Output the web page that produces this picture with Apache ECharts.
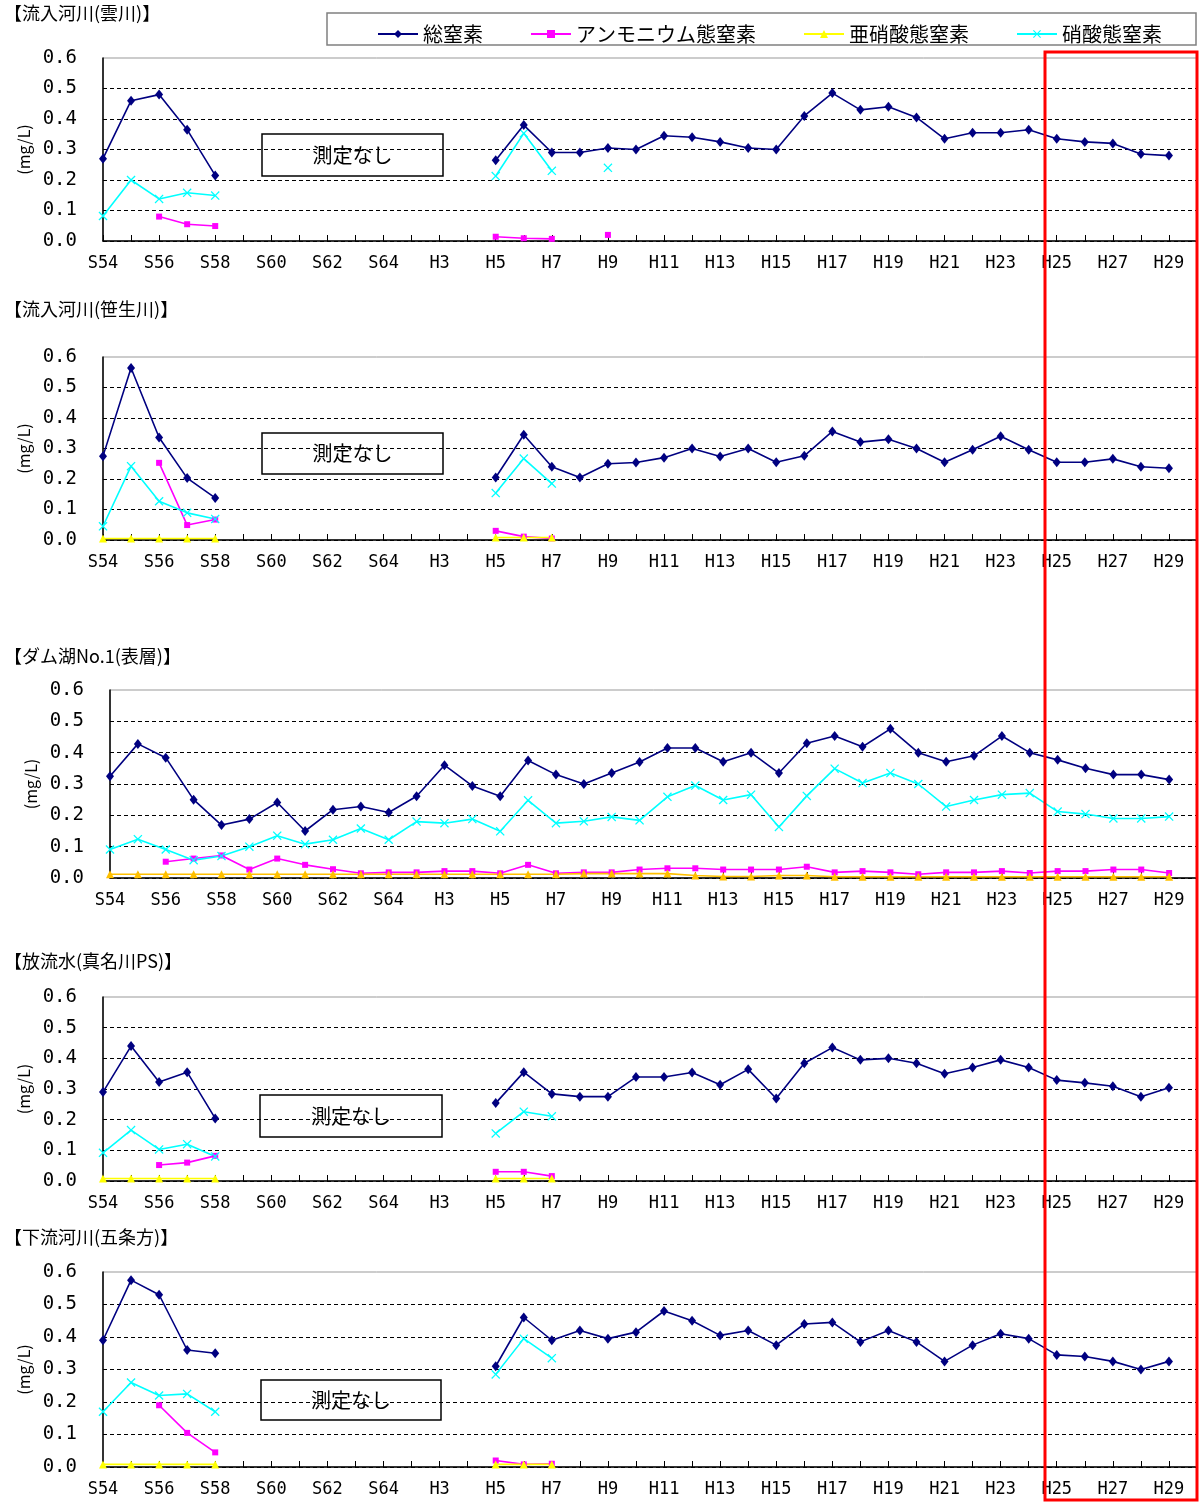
<!DOCTYPE html>
<html>
<head>
<meta charset="utf-8">
<script src="https://cdn.jsdelivr.net/npm/echarts@6/dist/echarts.min.js"></script>
<style>
  html, body { margin: 0; padding: 0; background: #fff; }
  #chart { width: 1200px; height: 1505px; }
</style>
</head>
<body>
<div id="chart"></div>
<script>
var _ = null;

// 年度 (S64 = H1), 最後の1つは空き
var years = ['S54','S55','S56','S57','S58','S59','S60','S61','S62','S63','S64',
  'H2','H3','H4','H5','H6','H7','H8','H9','H10','H11','H12','H13','H14','H15','H16',
  'H17','H18','H19','H20','H21','H22','H23','H24','H25','H26','H27','H28','H29',''];

var yTicks = [0, 0.1, 0.2, 0.3, 0.4, 0.5, 0.6];

// 流入河川(雲川)
var kumoTN  = [0.27,0.46,0.48,0.365,0.215,_,_,_,_,_,_,_,_,_,0.265,0.38,0.29,0.29,0.305,0.30,0.345,0.34,0.325,0.305,0.30,0.41,0.485,0.43,0.44,0.405,0.335,0.355,0.355,0.365,0.335,0.325,0.32,0.285,0.28,_];
var kumoNH4 = [_,_,0.08,0.055,0.049,_,_,_,_,_,_,_,_,_,0.014,0.009,0.007,_,0.02,_,_,_,_,_,_,_,_,_,_,_,_,_,_,_,_,_,_,_,_,_];
var kumoNO3 = [0.082,0.2,0.138,0.158,0.149,_,_,_,_,_,_,_,_,_,0.213,0.353,0.23,_,0.24,_,_,_,_,_,_,_,_,_,_,_,_,_,_,_,_,_,_,_,_,_];

// 流入河川(笹生川)
var sasoTN  = [0.275,0.564,0.336,0.203,0.138,_,_,_,_,_,_,_,_,_,0.205,0.345,0.24,0.205,0.25,0.254,0.27,0.30,0.274,0.30,0.255,0.276,0.356,0.321,0.33,0.30,0.255,0.296,0.34,0.296,0.255,0.255,0.266,0.24,0.235,_];
var sasoNH4 = [_,_,0.253,0.049,0.067,_,_,_,_,_,_,_,_,_,0.03,0.011,0.005,_,_,_,_,_,_,_,_,_,_,_,_,_,_,_,_,_,_,_,_,_,_,_];
var sasoNO2 = [0.005,0.005,0.005,0.005,0.005,_,_,_,_,_,_,_,_,_,0.008,0.008,0.008,_,_,_,_,_,_,_,_,_,_,_,_,_,_,_,_,_,_,_,_,_,_,_];
var sasoNO3 = [0.045,0.242,0.127,0.089,0.069,_,_,_,_,_,_,_,_,_,0.154,0.267,0.185,_,_,_,_,_,_,_,_,_,_,_,_,_,_,_,_,_,_,_,_,_,_,_];

// ダム湖No.1(表層)
var damTN  = [0.325,0.428,0.384,0.25,0.169,0.188,0.241,0.15,0.218,0.228,0.209,0.261,0.36,0.294,0.261,0.375,0.33,0.30,0.335,0.37,0.415,0.415,0.371,0.40,0.335,0.43,0.453,0.419,0.476,0.40,0.371,0.39,0.453,0.40,0.377,0.35,0.33,0.33,0.314,_];
var damNH4 = [_,_,0.052,0.062,0.072,0.027,0.062,0.042,0.028,0.015,0.018,0.018,0.022,0.022,0.015,0.042,0.015,0.018,0.018,0.027,0.031,0.031,0.027,0.027,0.027,0.036,0.018,0.022,0.018,0.012,0.018,0.018,0.022,0.016,0.022,0.022,0.027,0.027,0.016,_];
var damNO2 = [0.012,0.012,0.012,0.012,0.012,0.012,0.012,0.012,0.012,0.012,0.012,0.012,0.012,0.012,0.012,0.012,0.012,0.014,0.014,0.014,0.014,0.008,0.005,0.005,0.008,0.008,0.004,0.004,0.004,0.004,0.004,0.004,0.004,0.004,0.004,0.004,0.004,0.004,0.004,_];
var damNO3 = [0.091,0.124,0.091,0.057,0.07,0.10,0.135,0.108,0.122,0.158,0.122,0.18,0.175,0.188,0.149,0.248,0.175,0.181,0.195,0.184,0.259,0.295,0.249,0.266,0.163,0.262,0.349,0.303,0.335,0.30,0.228,0.249,0.266,0.271,0.212,0.204,0.19,0.19,0.196,_];

// 放流水(真名川PS)
var outTN  = [0.29,0.44,0.323,0.355,0.204,_,_,_,_,_,_,_,_,_,0.254,0.355,0.284,0.275,0.275,0.339,0.339,0.354,0.314,0.364,0.269,0.384,0.435,0.395,0.40,0.384,0.35,0.37,0.395,0.37,0.329,0.32,0.309,0.275,0.304,_];
var outNH4 = [_,_,0.052,0.06,0.082,_,_,_,_,_,_,_,_,_,0.03,0.03,0.016,_,_,_,_,_,_,_,_,_,_,_,_,_,_,_,_,_,_,_,_,_,_,_];
var outNO2 = [0.008,0.008,0.008,0.008,0.008,_,_,_,_,_,_,_,_,_,0.008,0.008,0.008,_,_,_,_,_,_,_,_,_,_,_,_,_,_,_,_,_,_,_,_,_,_,_];
var outNO3 = [0.092,0.166,0.103,0.12,0.08,_,_,_,_,_,_,_,_,_,0.155,0.226,0.211,_,_,_,_,_,_,_,_,_,_,_,_,_,_,_,_,_,_,_,_,_,_,_];

// 下流河川(五条方)
var gojoTN  = [0.39,0.575,0.53,0.36,0.35,_,_,_,_,_,_,_,_,_,0.31,0.46,0.39,0.42,0.395,0.415,0.48,0.45,0.405,0.42,0.375,0.44,0.445,0.385,0.42,0.385,0.325,0.375,0.41,0.395,0.345,0.34,0.325,0.30,0.325,_];
var gojoNH4 = [_,_,0.19,0.105,0.045,_,_,_,_,_,_,_,_,_,0.02,0.008,0.01,_,_,_,_,_,_,_,_,_,_,_,_,_,_,_,_,_,_,_,_,_,_,_];
var gojoNO2 = [0.008,0.008,0.008,0.008,0.008,_,_,_,_,_,_,_,_,_,0.008,0.008,0.008,_,_,_,_,_,_,_,_,_,_,_,_,_,_,_,_,_,_,_,_,_,_,_];
var gojoNO3 = [0.17,0.26,0.22,0.225,0.17,_,_,_,_,_,_,_,_,_,0.285,0.395,0.335,_,_,_,_,_,_,_,_,_,_,_,_,_,_,_,_,_,_,_,_,_,_,_];

var FONT = '"Noto Sans CJK JP", "Noto Sans", sans-serif';
var NUM_FONT = '"DejaVu Sans Mono", monospace';
var X_PATH = 'path://M0,1L1,0L5,4L9,0L10,1L6,5L10,9L9,10L5,6L1,10L0,9L4,5Z';

var kinds = {
  tn:  { name: '総窒素',           color: '#000080', symbol: 'diamond', size: [8, 10] },
  nh4: { name: 'アンモニウム態窒素', color: '#FF00FF', symbol: 'rect', size: 6 },
  no2: { name: '亜硝酸態窒素',      color: '#FFFF00', symbol: 'triangle', size: 8 },
  no3: { name: '硝酸態窒素',        color: '#00FFFF', symbol: X_PATH, size: 9 }
};

// 各パネル: タイトル, グリッド位置, データ
var panels = [
  { title: '【流入河川(雲川)】',   titleY: 4,    left: 103, top: 58,   height: 183, box: [262, 134, 181, 42],
    data: { tn: kumoTN, nh4: kumoNH4, no3: kumoNO3 } },
  { title: '【流入河川(笹生川)】', titleY: 300,  left: 103, top: 357,  height: 183, box: [262, 433, 181, 41],
    data: { tn: sasoTN, nh4: sasoNH4, no2: sasoNO2, no3: sasoNO3 } },
  { title: '【ダム湖No.1(表層)】', titleY: 647,  left: 110, top: 690,  height: 188, box: null,
    data: { tn: damTN, nh4: damNH4, no2: damNO2, no3: damNO3 }, no2Color: '#FFC000' },
  { title: '【放流水(真名川PS)】', titleY: 952,  left: 103, top: 997,  height: 184, box: [260, 1095, 182, 42],
    data: { tn: outTN, nh4: outNH4, no2: outNO2, no3: outNO3 } },
  { title: '【下流河川(五条方)】', titleY: 1228, left: 103, top: 1272, height: 195, box: [261, 1380, 180, 40],
    data: { tn: gojoTN, nh4: gojoNH4, no2: gojoNO2, no3: gojoNO3 } }
];

var grids = [], xAxes = [], yAxes = [], series = [], titles = [], graphics = [];

panels.forEach(function (p, i) {
  titles.push({
    text: p.title, left: 4, top: p.titleY, padding: 0,
    textStyle: { fontFamily: FONT, fontSize: 18, fontWeight: 'normal', color: '#000' }
  });
  grids.push({
    left: p.left, right: 3, top: p.top, height: p.height,
    show: true, borderColor: '#999', borderWidth: 1, backgroundColor: 'transparent'
  });
  xAxes.push({
    type: 'category', gridIndex: i, data: years, boundaryGap: false,
    axisLine: { lineStyle: { color: '#000', width: 1.5 } },
    axisTick: { interval: 0, inside: true, length: 6, lineStyle: { color: '#000' } },
    axisLabel: { interval: 1, margin: 14, fontFamily: NUM_FONT, fontSize: 17, color: '#000' },
    splitLine: { show: false }
  });
  yAxes.push({
    type: 'value', gridIndex: i, min: yTicks[0], max: yTicks[yTicks.length - 1], interval: 0.1,
    name: '(mg/L)', nameLocation: 'middle', nameGap: 64, nameRotate: 90,
    nameTextStyle: { fontFamily: FONT, fontSize: 16, color: '#000' },
    axisLine: { show: true, lineStyle: { color: '#000', width: 1.5 } },
    axisTick: { show: false },
    axisLabel: {
      margin: 26, fontFamily: NUM_FONT, fontSize: 19, color: '#000',
      formatter: function (v) { return v.toFixed(1); }
    },
    splitLine: {
      lineStyle: { type: [4, 3], width: 1,
        color: ['#000', '#000', '#000', '#000', '#000', '#000', 'rgba(0,0,0,0)'] }
    }
  });
  ['tn', 'nh4', 'no2', 'no3'].forEach(function (k) {
    if (!p.data[k]) return;
    var kd = kinds[k];
    var col = (k === 'no2' && p.no2Color) ? p.no2Color : kd.color;
    series.push({
      name: kd.name, type: 'line', xAxisIndex: i, yAxisIndex: i,
      data: p.data[k], connectNulls: false,
      symbol: kd.symbol, symbolSize: kd.size, showSymbol: true,
      lineStyle: { color: col, width: 1.6 },
      itemStyle: { color: col },
      z: k === 'tn' ? 4 : 3
    });
  });
  if (p.box) {
    graphics.push({
      type: 'group', z: 100,
      children: [
        { type: 'rect', shape: { x: p.box[0], y: p.box[1], width: p.box[2], height: p.box[3] },
          style: { fill: '#fff', stroke: '#000', lineWidth: 1.5 } },
        { type: 'text', x: p.box[0] + p.box[2] / 2, y: p.box[1] + p.box[3] / 2,
          style: { text: '測定なし', fontFamily: FONT, fontSize: 20, fill: '#000',
                   align: 'center', verticalAlign: 'middle' } }
      ]
    });
  }
});

// 凡例枠
graphics.push({
  type: 'rect', z: 0,
  shape: { x: 327, y: 13, width: 869, height: 32 },
  style: { fill: '#fff', stroke: '#808080', lineWidth: 1.5 }
});
// 赤枠 (H25〜H29)
graphics.push({
  type: 'rect', z: 200,
  shape: { x: 1045, y: 52, width: 152, height: 1448 },
  style: { fill: 'none', stroke: '#FF0000', lineWidth: 3 }
});

var chart = echarts.init(document.getElementById('chart'));
chart.setOption({
  animation: false,
  backgroundColor: '#fff',
  title: titles,
  legend: {
    data: [kinds.tn.name, kinds.nh4.name, kinds.no2.name, kinds.no3.name],
    left: 372, top: 19, itemWidth: 40, itemHeight: 10, itemGap: 47,
    textStyle: { fontFamily: FONT, fontSize: 20, color: '#000' },
    z: 10
  },
  grid: grids,
  xAxis: xAxes,
  yAxis: yAxes,
  series: series,
  graphic: graphics
});
window.addEventListener('resize', function () { chart.resize(); });
</script>
</body>
</html>
